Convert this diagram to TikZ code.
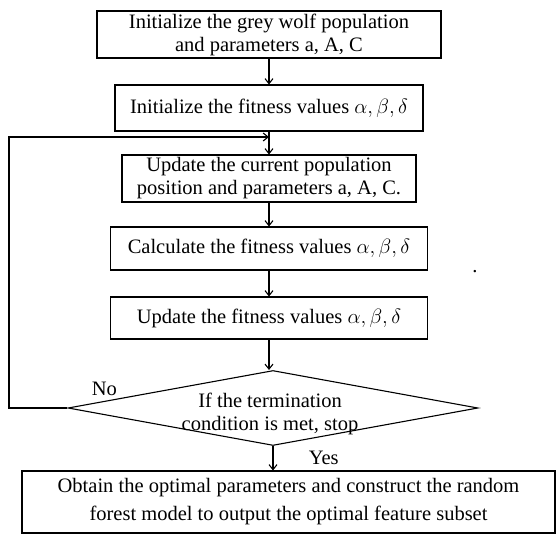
\documentclass[tikz,border=0pt]{standalone}
\usepackage{fontspec}
\setmainfont{Liberation Serif}
\usetikzlibrary{shapes.geometric,arrows.meta}

\begin{document}
\begin{tikzpicture}[
      x=1pt, y=-1pt,
      every node/.style={font=\fontsize{20.5}{23}\selectfont},
      box/.style={draw, line width=1.1pt, align=center, inner sep=0pt},
      decision/.style={draw, diamond, line width=1.1pt, inner sep=0pt},
      arrow/.style={line width=1.1pt,->,>={Straight Barb[length=5pt,width=8pt]}}
    ]
    \useasboundingbox (0,0) rectangle (558,536);

    % Nodes for the steps
    \node[box, minimum width=344pt, minimum height=47pt] (init) at (269,34.5) {Initialize the grey wolf population\\and parameters a, A, C};
    \node[box, minimum width=308pt, minimum height=46pt] (initfit) at (269,108) {Initialize the fitness values $\alpha,\beta,\delta$};
    \node[box, minimum width=294pt, minimum height=47pt] (update) at (269,178.5) {Update the current population\\position and parameters a, A, C.};
    \node[box, minimum width=317pt, minimum height=43pt] (calc) at (269,248.5) {Calculate the fitness values $\alpha,\beta,\delta$};
    \node[box, minimum width=317pt, minimum height=42pt] (updfit) at (269,318) {Update the fitness values $\alpha,\beta,\delta$};
    \node[decision, minimum width=410pt, minimum height=75pt] (cond) at (273,408) {};
    \node[align=center] (condtext) at (270,414) {If the termination\\condition is met, stop};
    \node[box, minimum width=533pt, minimum height=62pt, font=\fontsize{20.5}{28}\selectfont] (result) at (288.5,502) {Obtain the optimal parameters and construct the random\\forest model to output the optimal feature subset};
    \node (dot) at (475,272) {.};
    \coordinate (loop) at (9,137);

    % Arrows between the steps
    \draw[arrow] (init) -- (initfit);
    \draw[arrow] (initfit) -- (update);
    \draw[arrow] (update) -- (calc);
    \draw[arrow] (calc) -- (updfit);
    \draw[arrow] (updfit) -- (updfit.south |- cond.north);
    \draw[arrow] (cond.south) -- node[right, xshift=32pt] {Yes} (cond.south |- result.north);
    \draw[arrow] (cond.west) -- (cond.west -| loop) -- (loop) -- (initfit.south |- loop);
    \node (no) at ([xshift=37pt, yshift=19pt]cond.west) {No};

    \end{tikzpicture}
\end{document}
